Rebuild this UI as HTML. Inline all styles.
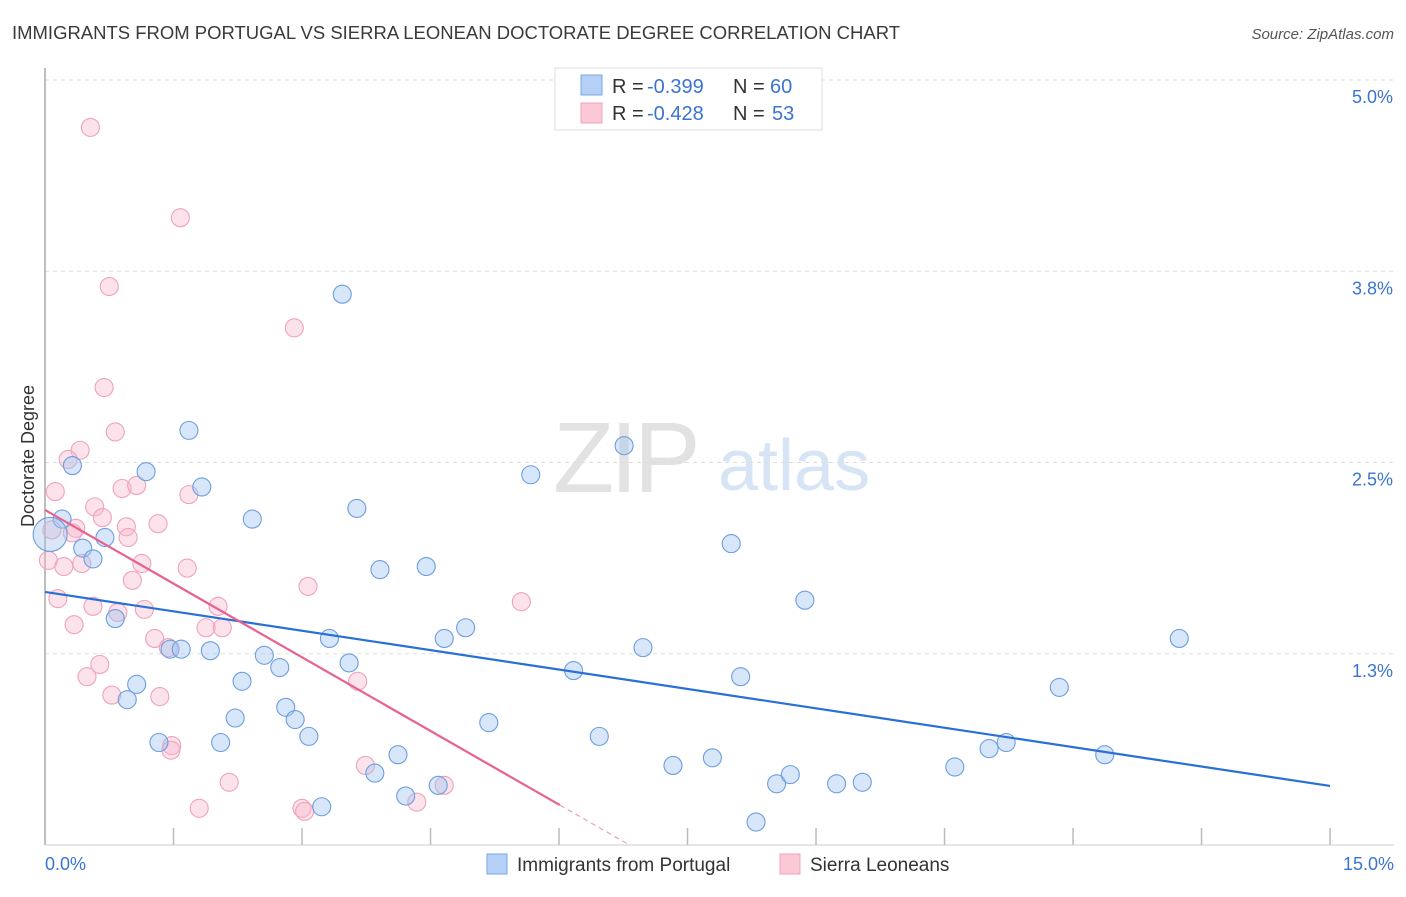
<!DOCTYPE html>
<html><head><meta charset="utf-8">
<style>
body{margin:0;background:#fff;font-family:"Liberation Sans",sans-serif;}
svg text{font-family:"Liberation Sans",sans-serif;}
</style></head>
<body>
<svg id="chart" width="1406" height="892" viewBox="0 0 1406 892" xmlns="http://www.w3.org/2000/svg">
<text x="12" y="39" font-size="18" fill="#3a3a3a" textLength="888" lengthAdjust="spacingAndGlyphs">IMMIGRANTS FROM PORTUGAL VS SIERRA LEONEAN DOCTORATE DEGREE CORRELATION CHART</text>
<text x="1394" y="39" font-size="15" fill="#555" text-anchor="end" font-style="italic">Source: ZipAtlas.com</text>
<text x="553" y="492" font-size="100" fill="#e2e2e2" font-family="Liberation Serif" letter-spacing="-4">ZIP</text>
<text x="718" y="490" font-size="72" fill="#d6e4f5">atlas</text>
<g id="grid"></g>
<line x1="45" y1="68" x2="45" y2="845" stroke="#aaa" stroke-width="1.5"/>
<line x1="45" y1="845" x2="1394" y2="845" stroke="#ccc" stroke-width="1"/>
<g id="xticks"></g>
<text transform="translate(34,456) rotate(-90)" font-size="18" fill="#333" text-anchor="middle">Doctorate Degree</text>
<text x="45" y="870" font-size="18" fill="#3b74d0">0.0%</text>
<text x="1394" y="870" font-size="18" fill="#3b74d0" text-anchor="end">15.0%</text>
<g id="pts"></g>
<g id="lines"></g>
<g>
<rect x="555" y="68" width="267" height="62" fill="#fff" stroke="#ddd"/>
<rect x="581" y="75" width="21" height="20" fill="#b5d0f5" stroke="#7aa6e6"/>
<rect x="581" y="103" width="21" height="20" fill="#fbc8d6" stroke="#f0a4bb"/>
<text x="612" y="93" font-size="20" fill="#333">R =</text>
<text x="647" y="93" font-size="20" fill="#3b74d0">-0.399</text>
<text x="733" y="93" font-size="20" fill="#333">N =</text>
<text x="770" y="93" font-size="20" fill="#3b74d0">60</text>
<text x="612" y="120" font-size="20" fill="#333">R =</text>
<text x="647" y="120" font-size="20" fill="#3b74d0">-0.428</text>
<text x="733" y="120" font-size="20" fill="#333">N =</text>
<text x="772" y="120" font-size="20" fill="#3b74d0">53</text>
</g>
<g>
<rect x="487" y="854" width="20" height="20" fill="#b5d0f5" stroke="#7aa6e6"/>
<text x="517" y="871" font-size="19" fill="#333">Immigrants from Portugal</text>
<rect x="780" y="854" width="20" height="20" fill="#fbc8d6" stroke="#f0a4bb"/>
<text x="810" y="871" font-size="19" fill="#333">Sierra Leoneans</text>
</g>
</svg>
<script>
const yTicks=[5.0,3.75,2.5,1.25];
const yTickLabels=["5.0%","3.8%","2.5%","1.3%"];
const xTicks=[1.5,3,4.5,6,7.5,9,10.5,12,13.5,15];
const blueX=[0.20,0.32,0.44,0.56,0.70,0.82,0.96,1.07,1.18,1.33,1.46,1.59,1.68,1.83,1.93,2.05,2.22,2.30,2.42,2.56,2.74,2.81,2.92,3.08,3.23,3.32,3.47,3.55,3.64,3.85,3.91,4.12,4.21,4.45,4.59,4.66,4.91,5.18,5.67,6.17,6.47,6.76,6.98,7.33,7.79,8.01,8.12,8.30,8.54,8.70,8.87,9.24,9.54,10.62,11.02,11.22,11.84,12.37,13.24];
const blueY=[2.13,2.48,1.94,1.87,2.01,1.48,0.95,1.05,2.44,0.67,1.28,1.28,2.71,2.34,1.27,0.67,0.83,1.07,2.13,1.24,1.16,0.90,0.82,0.71,0.25,1.35,3.60,1.19,2.20,0.47,1.80,0.59,0.32,1.82,0.39,1.35,1.42,0.80,2.42,1.14,0.71,2.61,1.29,0.52,0.57,1.97,1.10,0.15,0.40,0.46,1.60,0.40,0.41,0.51,0.63,0.67,1.03,0.59,1.35];
const pinkX=[0.53,1.58,0.75,2.91,0.69,0.82,0.41,0.27,0.12,0.90,1.07,1.68,0.58,0.67,0.95,1.32,0.36,0.32,0.97,0.04,0.22,0.43,1.13,1.66,1.02,3.07,0.15,0.56,0.85,1.16,2.02,5.56,0.34,1.88,2.07,1.28,1.44,0.64,0.49,0.78,1.34,3.65,1.48,1.47,3.74,2.15,1.80,3.00,3.03,4.34,4.66,0.08];
const pinkY=[4.69,4.10,3.65,3.38,2.99,2.70,2.58,2.52,2.31,2.33,2.35,2.29,2.21,2.14,2.08,2.10,2.07,2.04,2.01,1.86,1.82,1.84,1.84,1.81,1.73,1.69,1.61,1.56,1.52,1.54,1.56,1.59,1.44,1.42,1.42,1.35,1.29,1.18,1.10,0.98,0.97,1.07,0.65,0.62,0.52,0.41,0.24,0.24,0.22,0.28,0.39,2.06];
const bigX=[0.06], bigY=[2.03];
const blueTrend=[1.654,0.386];
const pinkTrend=[2.19,-0.321];
const X0=45,XS=85.67,Y0=845,YS=153;
const sx=v=>X0+v*XS, sy=v=>Y0-v*YS;
const NS="http://www.w3.org/2000/svg";
function mk(tag,attrs,parent){const e=document.createElementNS(NS,tag);for(const k in attrs)e.setAttribute(k,attrs[k]);parent.appendChild(e);return e;}
const grid=document.getElementById('grid');
yTicks.forEach((t,i)=>{
 const l=mk('line',{x1:45,x2:1394,y1:sy(t),y2:sy(t),stroke:'#ddd','stroke-dasharray':'4,4'},grid);
 
 
 const tx=mk('text',{x:1393,y:sy(t)+23,'font-size':18,fill:'#3b74d0','text-anchor':'end'},grid);
 tx.textContent=yTickLabels[i];
 
 
});
const xt=document.getElementById('xticks');
xTicks.forEach(t=>{
 const l=mk('line',{x1:sx(t),x2:sx(t),y1:828,y2:845,stroke:'#bbb','stroke-width':1.5},xt);
 
 
});
const pts=document.getElementById('pts');
pinkX.forEach((x,i)=>{
 const c=mk('circle',{cx:sx(x),cy:sy(pinkY[i]),r:9,fill:'rgba(248,182,202,0.38)',stroke:'#f0a2ba','stroke-width':1.1},pts);
 
 
});
blueX.forEach((x,i)=>{
 const c=mk('circle',{cx:sx(x),cy:sy(blueY[i]),r:9,fill:'rgba(160,196,240,0.42)',stroke:'#6c9ee0','stroke-width':1.1},pts);
 
 
});
bigX.forEach((x,i)=>{
 const c=mk('circle',{cx:sx(x),cy:sy(bigY[i]),r:17,fill:'rgba(160,196,240,0.4)',stroke:'#6c9ee0','stroke-width':1.1},pts);
 
 
});
const lines=document.getElementById('lines');
const bl=mk('line',{x1:sx(0),y1:sy(blueTrend[0]),x2:sx(15),y2:sy(blueTrend[1]),stroke:'#2a6fd6','stroke-width':2.2},lines);


const pEnd=6.01, pZero=-pinkTrend[0]/pinkTrend[1];
const pl=mk('line',{x1:sx(0),y1:sy(pinkTrend[0]),x2:sx(pEnd),y2:sy(pinkTrend[0]+pinkTrend[1]*pEnd),stroke:'#e8628e','stroke-width':2.2},lines);


const pd=mk('line',{x1:sx(pEnd),y1:sy(pinkTrend[0]+pinkTrend[1]*pEnd),x2:sx(pZero),y2:sy(0),stroke:'#f0a0b8','stroke-width':1.2,'stroke-dasharray':'5,4'},lines);


</script>
</body></html>
